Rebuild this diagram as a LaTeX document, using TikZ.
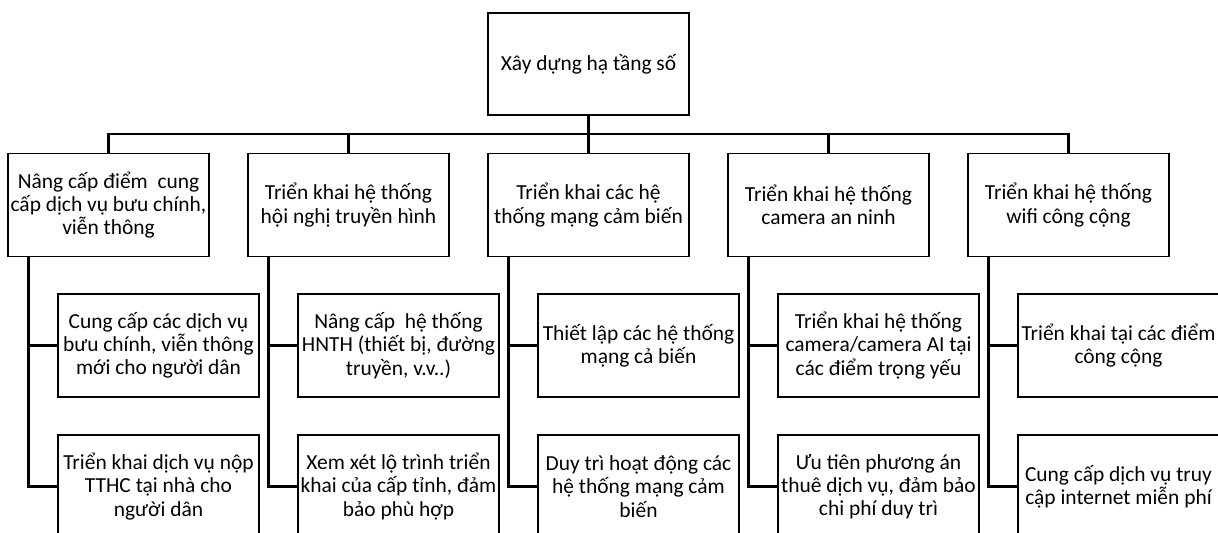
\documentclass[tikz,border=0pt]{standalone}
\usepackage{fontspec}
\setmainfont{Carlito}
\usetikzlibrary{positioning,calc}
\tikzstyle{box}=[draw, line width=1pt, inner sep=0pt, minimum width=4.02cm, minimum height=2.06cm, align=center, font=\fontsize{12.2}{13.2}\selectfont]
\tikzstyle{link}=[line width=1.6pt]

\begin{document}
\begin{tikzpicture}[x=0.02cm, y=-0.02cm]
\useasboundingbox (0,0) rectangle (1218,533);
\clip (0,0) rectangle (1218,533);
\node [box, minimum height=2.04cm] (root) at (588.5,64) {Xây dựng hạ tầng số};
\node [box] (b1) at (108.5,205) {Nâng cấp điểm\ \ cung\\cấp dịch vụ bưu chính,\\viễn thông};
\node [box] (b2) at (348.5,205) {Triển khai hệ thống\\hội nghị truyền hình};
\node [box] (b3) at (588.5,205) {Triển khai các hệ\\thống mạng cảm biến};
\node [box] (b4) at (828.5,205) {Triển khai hệ thống\\camera an ninh};
\node [box] (b5) at (1068.5,205) {Triển khai hệ thống\\wifi công cộng};
% tang 3
\node [box] (c11) at (158.5,345.5) {Cung cấp các dịch vụ\\bưu chính, viễn thông\\mới cho người dân};
\node [box] (c12) at (158.5,486.5) {Triển khai dịch vụ nộp\\TTHC tại nhà cho\\người dân};
\node [box] (c21) at (398.5,345.5) {Nâng cấp\ \ hệ thống\\HNTH (thiết bị, đường\\truyền, v.v..)};
\node [box] (c22) at (398.5,486.5) {Xem xét lộ trình triển\\khai của cấp tỉnh, đảm\\bảo phù hợp};
\node [box] (c31) at (638.5,345.5) {Thiết lập các hệ thống\\mạng cả biến};
\node [box] (c32) at (638.5,486.5) {Duy trì hoạt động các\\hệ thống mạng cảm\\biến};
\node [box] (c41) at (878.5,345.5) {Triển khai hệ thống\\camera/camera AI tại\\các điểm trọng yếu};
\node [box] (c42) at (878.5,486.5) {Ưu tiên phương án\\thuê dịch vụ, đảm bảo\\chi phí duy trì};
\node [box] (c51) at (1118.5,345.5) {Triển khai tại các điểm\\công cộng};
\node [box] (c52) at (1118.5,486.5) {Cung cấp dịch vụ truy\\cập internet miễn phí};

\coordinate (bus) at (588.5,134);
\draw [link] (root) -- (b3);
\draw [link] (b1.north) |- (bus) -| (b5.north);
\draw [link] (b2.north) |- (bus) (b4.north) |- (bus);
\draw [link] ($(b1.south west)+(21,0)$) |- (c12.west) ($(b1.south west)+(21,0)$) |- (c11.west);
\draw [link] ($(b2.south west)+(21,0)$) |- (c22.west) ($(b2.south west)+(21,0)$) |- (c21.west);
\draw [link] ($(b3.south west)+(21,0)$) |- (c32.west) ($(b3.south west)+(21,0)$) |- (c31.west);
\draw [link] ($(b4.south west)+(21,0)$) |- (c42.west) ($(b4.south west)+(21,0)$) |- (c41.west);
\draw [link] ($(b5.south west)+(21,0)$) |- (c52.west) ($(b5.south west)+(21,0)$) |- (c51.west);
\end{tikzpicture}
\end{document}
